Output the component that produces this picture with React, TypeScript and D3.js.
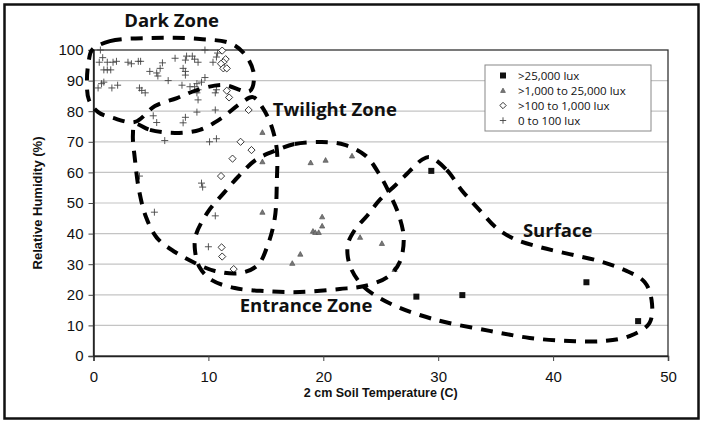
import React, { useEffect, useRef } from "react";
import * as d3 from "d3";

type Pt = [number, number];

// [soil temperature (C), relative humidity (%)]
const surfaceLux: Pt[] = [
  [29.4, 60.5], [28.1, 19.4], [32.1, 19.9], [42.9, 24.1], [47.4, 11.4],
];

const brightLux: Pt[] = [
  [14.7, 73.1], [14.7, 63.5], [18.9, 63.2], [20.2, 64], [22.5, 65.4],
  [14.7, 47], [19.9, 45.5], [19.9, 42.5], [19.1, 40.8], [19.3, 40.4],
  [19.6, 40.4], [18.0, 33.3], [17.3, 30.3], [23.2, 38.8], [25.1, 36.8],
  [26.2, 28.3],
];

const dimLux: Pt[] = [
  [11.2, 99.8], [11.5, 97], [11.3, 96], [11.1, 95.5], [11.3, 94], [11.6, 94],
  [11.6, 86.7], [11.8, 84.5], [13.5, 80.4], [12.8, 70], [13.75, 67.3],
  [12.1, 64.5], [11.1, 58.8], [11.15, 35.5], [11.2, 32.5], [12.2, 28.4],
];

const darkLux: Pt[] = [
  [0.6, 100], [0.8, 97.5], [0.5, 96], [1.2, 96], [1.7, 96], [2.0, 96.3],
  [3.0, 96], [3.3, 95.5], [3.9, 96.3], [4.1, 96.3], [0.9, 93.5], [1.2, 93.5],
  [1.5, 93.5], [4.9, 93], [5.5, 92.5], [5.8, 94], [6.0, 95.8], [5.6, 91.5],
  [7.1, 97.3], [8.0, 96.7], [8.1, 98], [8.6, 98], [8.8, 97], [9.1, 96],
  [9.7, 100], [7.8, 94], [8.0, 93], [8.0, 91.8], [10.4, 96], [10.7, 97.7],
  [10.8, 99], [6.5, 90], [0.4, 87.6], [0.7, 89], [0.9, 89.5], [1.6, 87.6],
  [2.1, 88.5], [4.0, 87.6], [4.2, 86.8], [4.5, 86], [7.7, 88.5], [8.4, 88],
  [8.8, 88], [9.0, 89], [9.1, 87], [9.4, 89.5], [9.7, 91], [9.0, 86],
  [9.1, 83.7], [10.7, 87], [10.6, 86], [9.0, 79.7], [10.6, 80.4], [5.2, 78.5],
  [5.5, 76.3], [8.0, 78], [7.8, 76.2], [6.2, 70.4], [10.1, 70], [10.7, 71],
  [4.0, 58.8], [9.4, 56.5], [9.5, 55.2], [5.3, 47], [10.6, 45.8], [10.0, 35.7],
];

const tempTicks = [0, 10, 20, 30, 40, 50];
const humidityTicks = [0, 10, 20, 30, 40, 50, 60, 70, 80, 90, 100];
const legendLabels = [">25,000 lux", ">1,000 to 25,000 lux", ">100 to 1,000 lux", "0 to 100 lux"];

// hand drawn zone outlines, in data units
const darkZone: Pt[] = [
  [-0.13, 100], [1.43, 102.9], [4.91, 103.9], [9.26, 103.6], [12.04, 102],
  [13.35, 97.7], [13.96, 91.8], [13.6, 86.6], [11.26, 88.6], [9.0, 86.9],
  [7.26, 84.3], [5.35, 81.7], [3.6, 76.5], [1.7, 77.8], [0.4, 79.7],
  [-0.4, 83.7], [-0.57, 90.2], [-0.4, 96.7],
];
const twilightZone: Pt[] = [
  [3.61, 75.8], [4.91, 73.9], [7.09, 72.9], [9.26, 73.9], [11.17, 77.8],
  [12.74, 82.4], [13.87, 84.6], [14.74, 81], [15.52, 74.8], [15.96, 67.3],
  [15.96, 57.5], [15.78, 45.1], [15.17, 36.3], [14.3, 29.7], [12.74, 27.1],
  [10.57, 27.8], [8.83, 30.4], [7.09, 34], [5.52, 38.6], [4.57, 45.4],
  [3.96, 54.2], [3.61, 64.1], [3.43, 72.2],
];
const entranceZone: Pt[] = [
  [15.96, 67.3], [17.52, 69.3], [19.87, 69.9], [21.87, 69], [23.7, 65.4],
  [24.91, 59.2], [25.87, 52.3], [26.57, 46.1], [27.0, 38.6], [26.65, 30.7],
  [25.6, 25.8], [23.6, 22.9], [21.43, 21.9], [17.96, 20.9], [14.91, 21.2],
  [12.3, 22.2], [10.3, 24.8], [9.26, 28.8], [8.83, 34.6], [8.91, 39.5],
  [9.96, 47.1], [11.35, 53.3], [12.57, 58.5], [14.13, 64.1],
];
const surfaceZone: Pt[] = [
  [29.26, 65], [30.74, 60.8], [32.04, 54.2], [33.6, 47.7], [35.09, 41.8],
  [36.65, 38.2], [38.83, 35.6], [41.43, 33.3], [44.04, 31], [46.22, 28.1],
  [47.96, 24.2], [48.57, 18.3], [48.39, 10.8], [46.65, 6.5], [44.48, 4.9],
  [41.43, 4.9], [37.96, 5.9], [34.48, 8.2], [30.57, 11.1], [28.39, 13.4],
  [26.48, 16], [24.74, 19.3], [23.35, 23.2], [22.3, 29.7], [22.13, 36.3],
  [22.74, 41.2], [23.87, 46.1], [24.91, 51], [26.3, 55.9], [27.78, 61.4],
  [28.57, 64.1],
];
const zoneLabels: { name: string; at: Pt }[] = [
  { name: "Dark Zone", at: [6.8, 107.6] },
  { name: "Twilight Zone", at: [21, 78.4] },
  { name: "Entrance Zone", at: [18.5, 14.4] },
  { name: "Surface", at: [40.4, 38.9] },
];

const W = 703;
const H = 424;

const App: React.FC = () => {
  const svgRef = useRef<SVGSVGElement>(null);

  useEffect(() => {
    const svg = d3.select(svgRef.current);
    svg.selectAll("*").remove();

    const x = d3.scaleLinear().domain([0, 50]).range([93.5, 668]);
    const y = d3.scaleLinear().domain([0, 100]).range([356, 50]);

    // outer frame
    svg.append("rect").attr("x", 4.5).attr("y", 4.5).attr("width", 694).attr("height", 414)
      .attr("fill", "#fff").attr("stroke", "#111").attr("stroke-width", 2.5);

    // grid
    svg.append("g").selectAll("line").data(humidityTicks.slice(1, -1)).enter().append("line")
      .attr("x1", x(0)).attr("x2", x(50)).attr("y1", (d) => y(d)).attr("y2", (d) => y(d))
      .attr("stroke", "#c4c4c4").attr("stroke-width", 1.2);

    // plot border
    svg.append("rect").attr("x", x(0)).attr("y", y(100)).attr("width", x(50) - x(0)).attr("height", y(0) - y(100))
      .attr("fill", "none").attr("stroke", "#333").attr("stroke-width", 1.3);

    // axes
    const xAxis = d3.axisBottom(x).tickValues(tempTicks).tickSize(5).tickPadding(10);
    const gx = svg.append("g").attr("transform", `translate(0,${y(0)})`).call(xAxis);
    const yAxis = d3.axisLeft(y).tickValues(humidityTicks).tickSize(5).tickPadding(5);
    const gy = svg.append("g").attr("transform", `translate(${x(0)},0)`).call(yAxis);
    [gx, gy].forEach((g) => {
      g.select(".domain").attr("stroke", "#222").attr("stroke-width", 1.5);
      g.selectAll(".tick line").attr("stroke", "#444");
      g.selectAll(".tick text").attr("font-family", "'Liberation Sans', Arial, sans-serif")
        .attr("font-size", 15).attr("fill", "#111");
    });

    svg.append("text").attr("x", (x(0) + x(50)) / 2).attr("y", 397).attr("text-anchor", "middle")
      .attr("font-family", "'Liberation Sans', Arial, sans-serif").attr("font-weight", "bold")
      .attr("font-size", 12.5).attr("fill", "#111").text("2 cm Soil Temperature (C)");
    svg.append("text").attr("transform", `translate(42,${(y(0) + y(100)) / 2}) rotate(-90)`)
      .attr("text-anchor", "middle")
      .attr("font-family", "'Liberation Sans', Arial, sans-serif").attr("font-weight", "bold")
      .attr("font-size", 13).attr("fill", "#111").text("Relative Humidity (%)");

    // markers
    const cross = (g: any, cx: number, cy: number, s: number) =>
      g.append("path").attr("d", `M${cx - s},${cy}H${cx + s}M${cx},${cy - s}V${cy + s}`)
        .attr("stroke", "#444").attr("stroke-width", 0.9).attr("fill", "none");
    const diamond = (g: any, cx: number, cy: number, s: number) =>
      g.append("path").attr("d", `M${cx},${cy - s}L${cx + s},${cy}L${cx},${cy + s}L${cx - s},${cy}Z`)
        .attr("stroke", "#222").attr("stroke-width", 0.9).attr("fill", "#fff");
    const tri = (g: any, cx: number, cy: number, s: number) =>
      g.append("path").attr("d", `M${cx},${cy - s}L${cx + s},${cy + s * 0.8}L${cx - s},${cy + s * 0.8}Z`)
        .attr("stroke", "#555").attr("stroke-width", 0.7).attr("fill", "#777");
    const square = (g: any, cx: number, cy: number, s: number) =>
      g.append("rect").attr("x", cx - s).attr("y", cy - s).attr("width", 2 * s).attr("height", 2 * s)
        .attr("fill", "#111");

    const pts = svg.append("g");
    darkLux.forEach(([t, h]) => cross(pts, x(t), y(h), 3.5));
    dimLux.forEach(([t, h]) => diamond(pts, x(t), y(h), 3.6));
    brightLux.forEach(([t, h]) => tri(pts, x(t), y(h), 2.6));
    surfaceLux.forEach(([t, h]) => square(pts, x(t), y(h), 3));

    // zone outlines
    const outline = d3.line<Pt>().x((d) => x(d[0])).y((d) => y(d[1])).curve(d3.curveCatmullRomClosed.alpha(0.5));
    [darkZone, twilightZone, entranceZone, surfaceZone].forEach((z) => {
      svg.append("path").attr("d", outline(z)).attr("fill", "none").attr("stroke", "#000")
        .attr("stroke-width", 4).attr("stroke-dasharray", "12 9");
    });

    zoneLabels.forEach((l) => {
      svg.append("text").attr("x", x(l.at[0])).attr("y", y(l.at[1])).attr("text-anchor", "middle")
        .attr("font-family", "'Open Sans', sans-serif").attr("font-weight", "bold")
        .attr("font-size", 18.5).attr("fill", "#111").text(l.name);
    });

    // legend
    const lg = svg.append("g").attr("transform", "translate(485,65)");
    lg.append("rect").attr("width", 166).attr("height", 66).attr("fill", "#fff")
      .attr("stroke", "#888").attr("stroke-width", 1);
    const markers = [square, tri, diamond, cross];
    const sizes = [3, 2.4, 3.2, 3.2];
    legendLabels.forEach((label, i) => {
      const cy = 10.5 + i * 15;
      markers[i](lg, 18, cy, sizes[i]);
      lg.append("text").attr("x", 33).attr("y", cy).attr("dy", "0.35em")
        .attr("font-family", "'Open Sans', sans-serif").attr("font-size", 11.5).attr("fill", "#111")
        .text(label);
    });
  }, []);

  return (
    <svg ref={svgRef} width={W} height={H} style={{ position: "absolute", left: 0, top: 0 }} />
  );
};

export default App;
